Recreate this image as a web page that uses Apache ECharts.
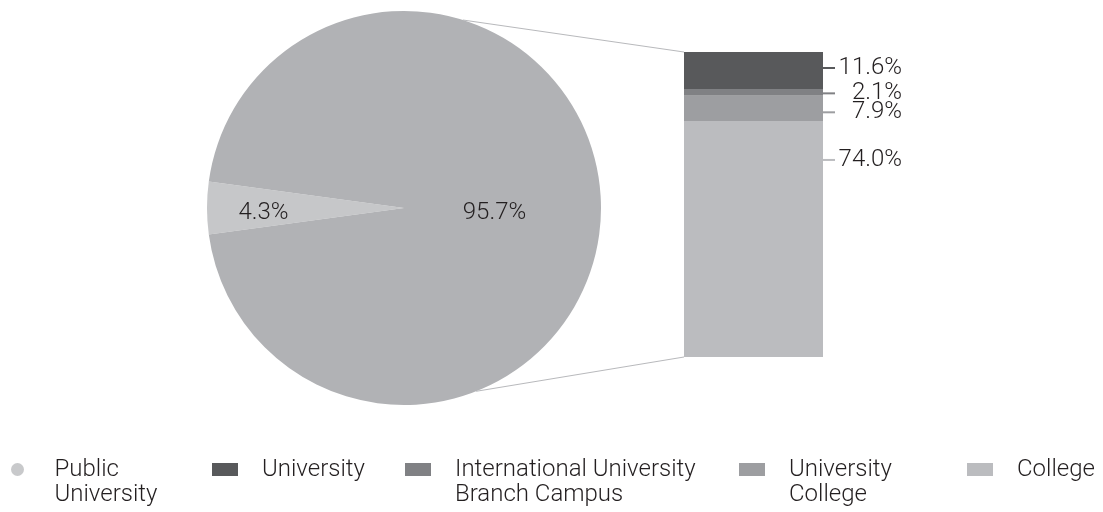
<!DOCTYPE html>
<html>
<head>
<meta charset="utf-8">
<script src="https://cdn.jsdelivr.net/npm/echarts@6/dist/echarts.min.js"></script>
<style>html,body{margin:0;padding:0;background:#fff}#c{width:1103px;height:512px}</style>
</head>
<body>
<div id="c"></div>
<script>
// ---- data ----
const pieNames = ['Public University', 'Private'];
const pieValues = [4.3, 95.7];
const barCategories = ['Private'];
const barNames = ['University', 'International University Branch Campus', 'University College', 'College'];
const barValues = [11.6, 2.1, 7.9, 74.0];
const legendLabels = ['Public\nUniversity', 'University', 'International University\nBranch Campus', 'University\nCollege', 'College'];

// ---- styling / layout ----
const FONT = 'Roboto';
const pieColors = ['#c6c7c9', '#b1b2b5'];
const barColors = ['#58595b', '#808184', '#9d9ea1', '#bbbcbf'];
const legendIconColor = '#c8c9cb';
const pieCenter = [404, 208], pieR = 197;
const grid = {left: 684, top: 52, width: 139, height: 305};
const labelDy = [-2.5, 1, 4, -79];
const pieLabelOffsets = [[-39, 5], [-11, 5]];

const chart = echarts.init(document.getElementById('c'), null, {renderer: 'canvas'});

const total = barValues.reduce((a, b) => a + b, 0);
const startAngle = 180 + pieValues[0] / (pieValues[0] + pieValues[1]) * 360 / 2;

const series = [{
  type: 'pie',
  center: pieCenter,
  radius: pieR,
  startAngle: startAngle,
  clockwise: true,
  silent: true,
  label: {show: true, position: 'inside', fontFamily: FONT, fontWeight: 300, fontSize: 24, color: '#231f20',
          formatter: p => p.value.toFixed(1) + '%'},
  labelLine: {show: false},
  data: pieNames.map((n, i) => ({name: n, value: pieValues[i],
    itemStyle: {color: pieColors[i]},
    label: {offset: pieLabelOffsets[i]}}))
}];

barNames.forEach((n, i) => {
  series.push({
    type: 'bar',
    name: n,
    stack: 'total',
    xAxisIndex: 0, yAxisIndex: 0,
    barWidth: '100%',
    silent: true,
    itemStyle: {color: barColors[i]},
    label: {
      show: true, position: 'right', distance: 0, offset: [0, labelDy[i]],
      formatter: p => '{t|}{v|' + p.value.toFixed(1) + '%}',
      rich: {
        t: {width: 12, height: 2, backgroundColor: barColors[i], verticalAlign: 'middle'},
        v: {width: 67, align: 'right', fontFamily: FONT, fontWeight: 300, fontSize: 24, color: '#231f20', verticalAlign: 'middle'}
      }
    },
    data: barCategories.map(() => barValues[i])
  });
});

const legendLefts = [11, 212, 405, 739, 967];
const legendNames = [pieNames[0]].concat(barNames);
const legends = legendNames.map((n, i) => {
  const twoLine = legendLabels[i].indexOf('\n') >= 0;
  return {
    data: [{name: n, icon: i === 0 ? 'circle' : 'rect', itemStyle: i === 0 ? {color: legendIconColor} : undefined}],
    left: legendLefts[i],
    top: twoLine ? 432 : 457,
    padding: 0,
    orient: 'horizontal',
    itemWidth: 26, itemHeight: 13,
    selectedMode: false,
    formatter: () => (twoLine ? ' \n' : '') + legendLabels[i],
    textStyle: {fontFamily: FONT, fontWeight: 300, fontSize: 24, lineHeight: 25, color: '#231f20',
                padding: [0, 0, 0, 19]}
  };
});

function pt(angleDeg) {
  const a = angleDeg * Math.PI / 180;
  return [pieCenter[0] + pieR * Math.cos(a), pieCenter[1] - pieR * Math.sin(a)];
}
const topPt = pt(72.6), botPt = pt(-68.5);

chart.setOption({
  animation: false,
  backgroundColor: '#ffffff',
  textStyle: {fontFamily: FONT},
  grid: {left: grid.left, top: grid.top, width: grid.width, height: grid.height, containLabel: false},
  xAxis: {type: 'category', data: barCategories, show: false},
  yAxis: {type: 'value', min: 0, max: total, inverse: true, show: false},
  legend: legends,
  series: series,
  graphic: [
    {type: 'line', shape: {x1: topPt[0], y1: topPt[1], x2: grid.left, y2: grid.top}, style: {stroke: '#b8b9bc', lineWidth: 1}, silent: true},
    {type: 'line', shape: {x1: botPt[0], y1: botPt[1], x2: grid.left, y2: grid.top + grid.height}, style: {stroke: '#b8b9bc', lineWidth: 1}, silent: true}
  ]
});
</script>
</body>
</html>
